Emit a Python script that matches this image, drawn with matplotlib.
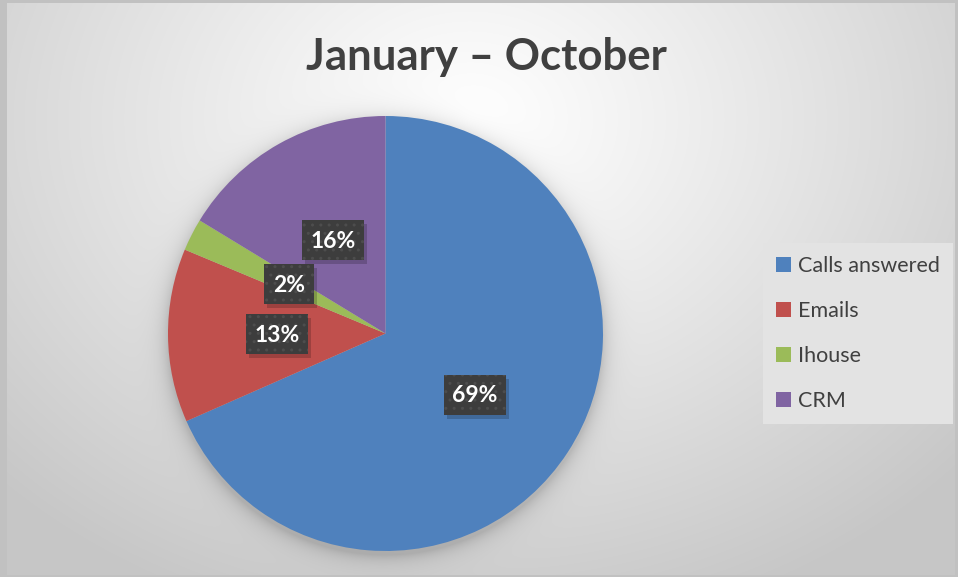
import numpy as np
import matplotlib
matplotlib.use("Agg")
import matplotlib.pyplot as plt
from matplotlib.patches import Rectangle

# ---- data ----
categories = ["Calls answered", "Emails", "Ihouse", "CRM"]
values = [68.4, 12.9, 2.4, 16.3]
pct_labels = ["69%", "13%", "2%", "16%"]
colors = ["#4F81BD", "#C0504D", "#9BBB59", "#8064A2"]
title = "January – October"

W, H = 958, 577
fig = plt.figure(figsize=(W / 100, H / 100), dpi=100)
fig.patch.set_facecolor("#c4c4c4")

# ---- background (radial gradient + soft pie shadow) ----
bg = fig.add_axes([0, 0, 1, 1])
bg.set_xlim(0, W)
bg.set_ylim(H, 0)
bg.axis("off")
yy, xx = np.mgrid[0:H, 0:W] + 0.5
cx, cy = 470, 120
d = np.sqrt(((xx - cx) / 1.25) ** 2 + (yy - cy) ** 2)
t = np.clip(d / 520, 0, 1)
val = 1.0 - 0.22 * t ** 1.1
pcx, pcy, R = 385.5, 333.5, 217.5
ds = np.sqrt((xx - pcx) ** 2 + (yy - (pcy + 4)) ** 2) - R
shadow = 0.14 * np.exp(-np.clip(ds, 0, None) / 9.0)
val = val - shadow
img = np.dstack([val, val, val])
mask = (xx < 7) | (yy < 3) | (xx > 955) | (yy > 575)
img[mask] = 0.76
bg.imshow(img, extent=[0, W, H, 0], interpolation="bilinear", zorder=0)

# ---- pie ----
ax = fig.add_axes([0, 0, 1, 1])
ax.patch.set_alpha(0)
wedges, _ = ax.pie(values, colors=colors, startangle=90, counterclock=False,
                   center=(pcx, H - pcy), radius=R,
                   wedgeprops=dict(linewidth=0), frame=True)
ax.set_xlim(0, W)
ax.set_ylim(0, H)
ax.set_aspect("equal")
ax.axis("off")

# ---- data labels ----
label_pos = [(475, 395), (277, 334), (289, 284), (333, 240)]
for (x, y), lab in zip(label_pos, pct_labels):
    yv = H - y
    bw = 62 if len(lab) == 3 else 50
    bh = 40
    ax.add_patch(Rectangle((x - bw / 2 + 3, yv - bh / 2 - 4), bw, bh,
                           facecolor="#000000", alpha=0.18, linewidth=0, zorder=4))
    ax.add_patch(Rectangle((x - bw / 2, yv - bh / 2), bw, bh,
                           facecolor="#3d3d3d", edgecolor="#4d4d4d", hatch="..",
                           linewidth=0, zorder=5))
    ax.text(x, yv - 1, lab, ha="center", va="center", color="white",
            fontsize=16.5, fontweight="bold", family="Lato", zorder=6)

# ---- title ----
fig.text(0.5 * (305 + 667) / W, 1 - 57 / H, title, ha="center", va="center",
         fontsize=31.5, fontweight="bold", color="#404040", family="Lato")

# ---- legend ----
leg = fig.legend(wedges, categories, loc="upper left",
                 bbox_to_anchor=(763 / W, 1 - 243 / H), borderaxespad=0,
                 frameon=True, fancybox=False, framealpha=1,
                 facecolor="#e3e3e3", edgecolor="none",
                 prop=dict(family="Lato", size=15.5), labelcolor="#404040",
                 handlelength=0.7, handleheight=0.7, handletextpad=0.3,
                 labelspacing=1.15, borderpad=0.62)

fig.savefig("out.png", dpi=100)
